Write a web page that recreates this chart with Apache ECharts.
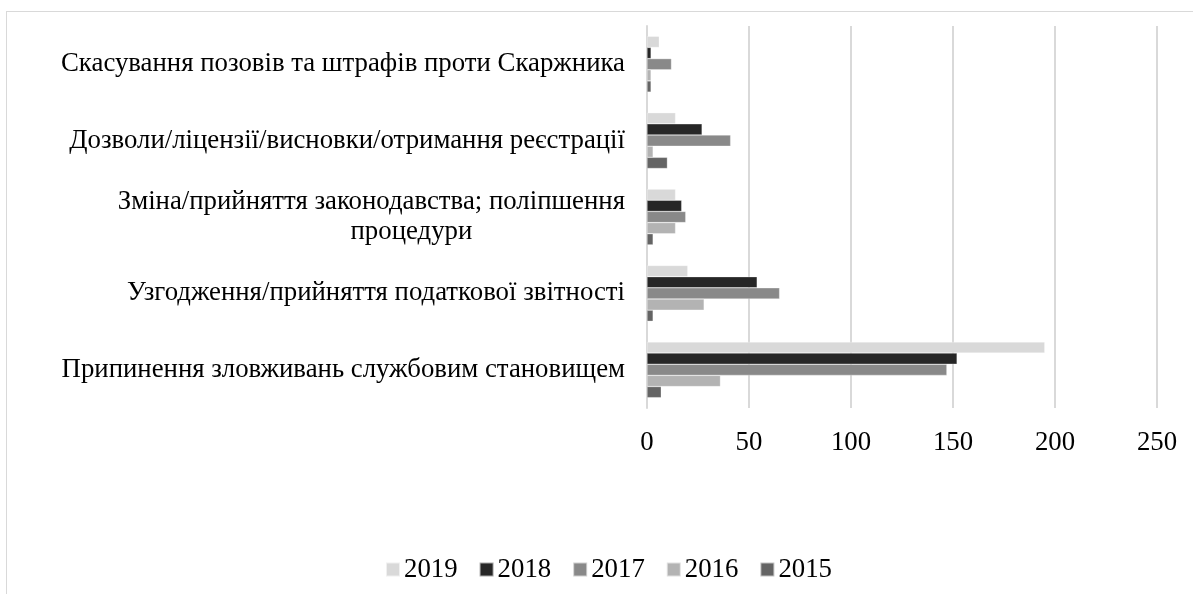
<!DOCTYPE html>
<html>
<head>
<meta charset="utf-8">
<script src="https://cdn.jsdelivr.net/npm/echarts@6/dist/echarts.min.js"></script>
<style>
html,body{margin:0;padding:0;background:#fff;}
#frame{position:absolute;left:6px;top:11px;width:1200px;height:600px;border-left:1.5px solid #d9d9d9;border-top:1.5px solid #d9d9d9;box-sizing:border-box;}
#chart{position:absolute;left:0;top:0;width:1193px;height:594px;}
</style>
</head>
<body>
<div id="frame"></div>
<div id="chart"></div>
<script>
// categories bottom-to-top (ECharts category y-axis starts at bottom)
var categories = [
  'Припинення зловживань службовим становищем',
  'Узгодження/прийняття податкової звітності',
  'Зміна/прийняття законодавства; поліпшення\n{b|процедури}',
  'Дозволи/ліцензії/висновки/отримання реєстрації',
  'Скасування позовів та штрафів проти Скаржника'
];
var years = ['2019', '2018', '2017', '2016', '2015'];
var v2019 = [195, 20, 14, 14, 6];
var v2018 = [152, 54, 17, 27, 2];
var v2017 = [147, 65, 19, 41, 12];
var v2016 = [36, 28, 14, 3, 2];
var v2015 = [7, 3, 3, 10, 2];
var xTicks = [0, 50, 100, 150, 200, 250];
var colors = {'2019':'#d9d9d9','2018':'#262626','2017':'#898989','2016':'#b3b3b3','2015':'#646464'};
var values = {'2019':v2019,'2018':v2018,'2017':v2017,'2016':v2016,'2015':v2015};

var series = years.map(function(y){
  return {
    name: y, type: 'bar', data: values[y],
    barGap: '0%', barCategoryGap: '27%',
    itemStyle: {color: colors[y], borderColor: 'rgba(255,255,255,0.6)', borderWidth: 0.5},
    emphasis: {disabled: true}
  };
});

var FS = 26.8;
var chart = echarts.init(document.getElementById('chart'), null, {renderer:'canvas'});
chart.setOption({
  animation: false,
  textStyle: {fontFamily: 'Liberation Serif'},
  grid: {left: 647, right: 36, top: 26, bottom: 186, containLabel: false},
  legend: {
    data: years.map(function(y){return {name:y, itemStyle:{color:colors[y]}};}),
    bottom: 6, left: 380,
    icon: 'rect', itemWidth: 14, itemHeight: 14, itemGap: 21,
    textStyle: {fontFamily: 'Liberation Serif', fontSize: FS, color: '#000', padding:[0,0,0,-1]}
  },
  xAxis: {
    type: 'value', min: xTicks[0], max: xTicks[xTicks.length-1], interval: 50,
    axisLine: {show: false}, axisTick: {show: false},
    splitLine: {show: true, lineStyle: {color: '#d9d9d9', width: 2}},
    axisLabel: {fontFamily: 'Liberation Serif', fontSize: FS, color: '#000', margin: 21}
  },
  yAxis: {
    type: 'category', data: categories,
    axisLine: {show: true, lineStyle: {color: '#d9d9d9', width: 2}},
    axisTick: {show: false},
    axisLabel: {
      fontFamily: 'Liberation Serif', fontSize: FS, color: '#000', margin: 22,
      lineHeight: 30, align: 'right',
      rich: {b: {fontFamily: 'Liberation Serif', fontSize: FS, color: '#000', lineHeight: 30, align: 'center', padding: [0,0,0,80]}}
    }
  },
  series: series
});
</script>
</body>
</html>
